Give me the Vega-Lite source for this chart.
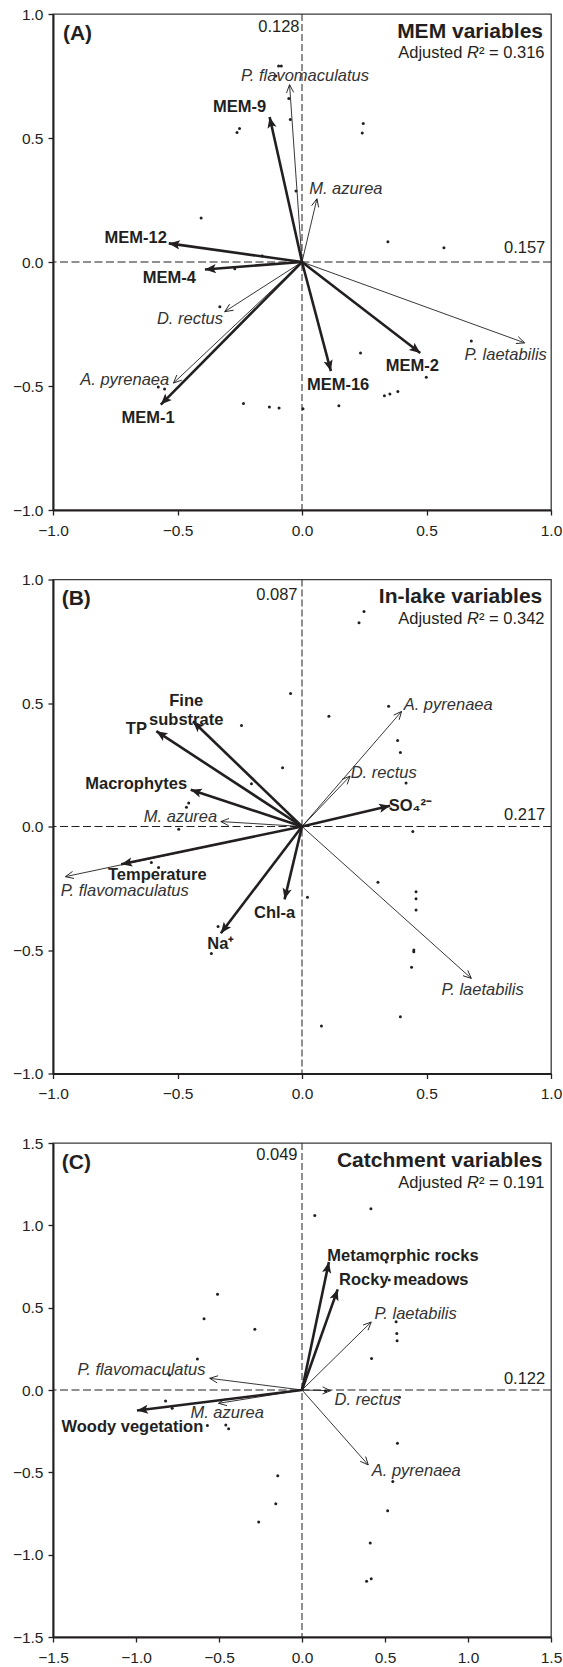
{
"$schema":"https://vega.github.io/schema/vega-lite/v6.json",
"padding":{"left":11,"top":6,"right":0,"bottom":0},
"background":"white",
"spacing":69.5,
"bounds":"flush",
"config":{
 "font":"Liberation Sans",
 "view":{"stroke":"#3a3a3a","strokeWidth":1.3},
 "axis":{"grid":false,"domainColor":"#231f20","domainWidth":2,"tickColor":"#231f20","tickWidth":1.3,"tickSize":5,"labelFontSize":15.5,"labelColor":"#231f20","labelFont":"Liberation Sans","labelFlush":false,"labelOverlap":false,"format":".1f"},
 "axisX":{"labelPadding":8},
 "axisY":{"labelPadding":5},
 "text":{"font":"Liberation Sans","color":"#231f20"}
},
"datasets":{
 "arrows":[
  {"panel":"A","kind":"var","name":"MEM-9","x":-0.13,"y":0.585,"lx":-0.251,"ly":0.623},
  {"panel":"A","kind":"var","name":"MEM-12","x":-0.535,"y":0.075,"lx":-0.668,"ly":0.097},
  {"panel":"A","kind":"var","name":"MEM-4","x":-0.39,"y":-0.03,"lx":-0.533,"ly":-0.063},
  {"panel":"A","kind":"var","name":"MEM-1","x":-0.567,"y":-0.575,"lx":-0.618,"ly":-0.629},
  {"panel":"A","kind":"var","name":"MEM-16","x":0.116,"y":-0.44,"lx":0.145,"ly":-0.495},
  {"panel":"A","kind":"var","name":"MEM-2","x":0.475,"y":-0.367,"lx":0.443,"ly":-0.42},
  {"panel":"A","kind":"sp","name":"P. flavomaculatus","x":-0.05,"y":0.715,"lx":0.012,"ly":0.75},
  {"panel":"A","kind":"sp","name":"M. azurea","x":0.06,"y":0.255,"lx":0.176,"ly":0.295},
  {"panel":"A","kind":"sp","name":"D. rectus","x":-0.31,"y":-0.2,"lx":-0.45,"ly":-0.228},
  {"panel":"A","kind":"sp","name":"A. pyrenaea","x":-0.516,"y":-0.488,"lx":-0.712,"ly":-0.474},
  {"panel":"A","kind":"sp","name":"P. laetabilis","x":0.894,"y":-0.326,"lx":0.818,"ly":-0.373},
  {"panel":"B","kind":"var","name":"Fine\nsubstrate","x":-0.438,"y":0.426,"lx":-0.465,"ly":0.508},
  {"panel":"B","kind":"var","name":"TP","x":-0.585,"y":0.386,"lx":-0.665,"ly":0.393},
  {"panel":"B","kind":"var","name":"Macrophytes","x":-0.447,"y":0.149,"lx":-0.666,"ly":0.173},
  {"panel":"B","kind":"var","name":"Temperature","x":-0.726,"y":-0.153,"lx":-0.581,"ly":-0.195},
  {"panel":"B","kind":"var","name":"Na⁺","x":-0.326,"y":-0.432,"lx":-0.326,"ly":-0.476},
  {"panel":"B","kind":"var","name":"Chl-a","x":-0.07,"y":-0.295,"lx":-0.11,"ly":-0.351},
  {"panel":"B","kind":"var","name":"SO₄²⁻","x":0.354,"y":0.084,"lx":0.435,"ly":0.085},
  {"panel":"B","kind":"sp","name":"A. pyrenaea","x":0.4,"y":0.466,"lx":0.587,"ly":0.493},
  {"panel":"B","kind":"sp","name":"D. rectus","x":0.193,"y":0.204,"lx":0.328,"ly":0.218},
  {"panel":"B","kind":"sp","name":"M. azurea","x":-0.326,"y":0.02,"lx":-0.488,"ly":0.04},
  {"panel":"B","kind":"sp","name":"P. flavomaculatus","x":-0.95,"y":-0.203,"lx":-0.712,"ly":-0.262},
  {"panel":"B","kind":"sp","name":"P. laetabilis","x":0.68,"y":-0.615,"lx":0.725,"ly":-0.662},
  {"panel":"C","kind":"var","name":"Metamorphic rocks","x":0.162,"y":0.777,"lx":0.608,"ly":0.813},
  {"panel":"C","kind":"var","name":"Rocky meadows","x":0.215,"y":0.611,"lx":0.613,"ly":0.666},
  {"panel":"C","kind":"var","name":"Woody vegetation","x":-0.994,"y":-0.125,"lx":-1.022,"ly":-0.226},
  {"panel":"C","kind":"sp","name":"P. laetabilis","x":0.417,"y":0.413,"lx":0.684,"ly":0.46},
  {"panel":"C","kind":"sp","name":"D. rectus","x":0.172,"y":-0.004,"lx":0.395,"ly":-0.061},
  {"panel":"C","kind":"sp","name":"A. pyrenaea","x":0.399,"y":-0.455,"lx":0.688,"ly":-0.489},
  {"panel":"C","kind":"sp","name":"P. flavomaculatus","x":-0.556,"y":0.071,"lx":-0.967,"ly":0.121},
  {"panel":"C","kind":"sp","name":"M. azurea","x":-0.503,"y":-0.081,"lx":-0.451,"ly":-0.137}
 ],
 "sites":[
  {"panel":"A","x":-0.094,"y":0.79},{"panel":"A","x":-0.083,"y":0.79},{"panel":"A","x":-0.105,"y":0.75},{"panel":"A","x":-0.053,"y":0.659},{"panel":"A","x":-0.047,"y":0.575},{"panel":"A","x":-0.251,"y":0.538},{"panel":"A","x":-0.261,"y":0.522},{"panel":"A","x":-0.405,"y":0.177},{"panel":"A","x":-0.024,"y":0.286},{"panel":"A","x":0.246,"y":0.558},{"panel":"A","x":0.242,"y":0.52},{"panel":"A","x":0.345,"y":0.082},{"panel":"A","x":0.57,"y":0.057},{"panel":"A","x":-0.16,"y":0.024},{"panel":"A","x":-0.27,"y":-0.027},{"panel":"A","x":-0.33,"y":-0.18},{"panel":"A","x":-0.577,"y":-0.504},{"panel":"A","x":-0.552,"y":-0.512},{"panel":"A","x":-0.235,"y":-0.571},{"panel":"A","x":-0.131,"y":-0.585},{"panel":"A","x":-0.092,"y":-0.589},{"panel":"A","x":0.004,"y":-0.592},{"panel":"A","x":0.148,"y":-0.58},{"panel":"A","x":0.235,"y":-0.367},{"panel":"A","x":0.331,"y":-0.539},{"panel":"A","x":0.353,"y":-0.532},{"panel":"A","x":0.385,"y":-0.522},{"panel":"A","x":0.499,"y":-0.465},{"panel":"A","x":0.68,"y":-0.319},
  {"panel":"B","x":0.249,"y":0.87},{"panel":"B","x":0.229,"y":0.825},{"panel":"B","x":-0.046,"y":0.538},{"panel":"B","x":0.108,"y":0.446},{"panel":"B","x":0.348,"y":0.487},{"panel":"B","x":0.384,"y":0.348},{"panel":"B","x":0.395,"y":0.3},{"panel":"B","x":-0.078,"y":0.238},{"panel":"B","x":-0.243,"y":0.409},{"panel":"B","x":-0.203,"y":0.173},{"panel":"B","x":-0.455,"y":0.095},{"panel":"B","x":-0.464,"y":0.078},{"panel":"B","x":-0.495,"y":-0.011},{"panel":"B","x":-0.605,"y":-0.146},{"panel":"B","x":-0.576,"y":-0.166},{"panel":"B","x":-0.337,"y":-0.405},{"panel":"B","x":-0.364,"y":-0.514},{"panel":"B","x":0.418,"y":0.176},{"panel":"B","x":0.445,"y":-0.02},{"panel":"B","x":0.305,"y":-0.226},{"panel":"B","x":0.458,"y":-0.264},{"panel":"B","x":0.458,"y":-0.293},{"panel":"B","x":0.458,"y":-0.338},{"panel":"B","x":0.449,"y":-0.5},{"panel":"B","x":0.449,"y":-0.507},{"panel":"B","x":0.44,"y":-0.57},{"panel":"B","x":0.022,"y":-0.286},{"panel":"B","x":0.395,"y":-0.77},{"panel":"B","x":0.078,"y":-0.808},
  {"panel":"C","x":-0.509,"y":0.581},{"panel":"C","x":-0.59,"y":0.433},{"panel":"C","x":-0.284,"y":0.369},{"panel":"C","x":0.077,"y":1.06},{"panel":"C","x":0.415,"y":1.1},{"panel":"C","x":0.508,"y":0.777},{"panel":"C","x":0.526,"y":0.668},{"panel":"C","x":0.567,"y":0.414},{"panel":"C","x":0.571,"y":0.343},{"panel":"C","x":0.573,"y":0.299},{"panel":"C","x":0.419,"y":0.192},{"panel":"C","x":0.142,"y":-0.008},{"panel":"C","x":0.587,"y":-0.044},{"panel":"C","x":0.575,"y":-0.323},{"panel":"C","x":0.547,"y":-0.556},{"panel":"C","x":0.516,"y":-0.733},{"panel":"C","x":0.411,"y":-0.929},{"panel":"C","x":0.389,"y":-1.162},{"panel":"C","x":0.417,"y":-1.147},{"panel":"C","x":-0.146,"y":-0.521},{"panel":"C","x":-0.158,"y":-0.691},{"panel":"C","x":-0.261,"y":-0.802},{"panel":"C","x":-0.63,"y":0.188},{"panel":"C","x":-0.798,"y":0.091},{"panel":"C","x":-0.822,"y":-0.067},{"panel":"C","x":-0.782,"y":-0.111},{"panel":"C","x":-0.57,"y":-0.216},{"panel":"C","x":-0.459,"y":-0.212},{"panel":"C","x":-0.442,"y":-0.236}
 ]
},
"vconcat":[
 {"width":498,"height":496,
  "layer":[
   {"data":{"values":[{}]},"mark":{"type":"rule","strokeDash":[8,3.5],"color":"#231f20","strokeWidth":1},"encoding":{"y":{"datum":0,"type":"quantitative","scale":{"domain":[-1,1],"nice":false},"axis":{"values":[-1,-0.5,0,0.5,1],"title":null}}}},
   {"data":{"values":[{}]},"mark":{"type":"rule","strokeDash":[7,3],"color":"#231f20","strokeWidth":1},"encoding":{"x":{"datum":0,"type":"quantitative","scale":{"domain":[-1,1],"nice":false},"axis":{"values":[-1,-0.5,0,0.5,1],"title":null}}}},
   {"data":{"name":"sites"},"transform":[{"filter":"datum.panel=='A'"}],"mark":{"type":"circle","size":9,"color":"#231f20","opacity":1},
    "encoding":{"x":{"field":"x","type":"quantitative","scale":{"domain":[-1,1],"nice":false},"axis":{"values":[-1,-0.5,0,0.5,1],"title":null}},"y":{"field":"y","type":"quantitative","scale":{"domain":[-1,1],"nice":false},"axis":{"values":[-1,-0.5,0,0.5,1],"title":null}}}},
   {"data":{"name":"arrows"},"transform":[{"filter":"datum.panel=='A' && datum.kind=='sp'"}],"mark":{"type":"rule","strokeWidth":0.9,"color":"#231f20"},
    "encoding":{"x":{"field":"x","type":"quantitative","scale":{"domain":[-1,1],"nice":false},"axis":{"values":[-1,-0.5,0,0.5,1],"title":null}},"y":{"field":"y","type":"quantitative","scale":{"domain":[-1,1],"nice":false},"axis":{"values":[-1,-0.5,0,0.5,1],"title":null}},"x2":{"datum":0},"y2":{"datum":0}}},
   {"data":{"name":"arrows"},"transform":[{"filter":"datum.panel=='A' && datum.kind=='var'"}],"mark":{"type":"rule","strokeWidth":2.6,"color":"#231f20"},
    "encoding":{"x":{"field":"x","type":"quantitative","scale":{"domain":[-1,1],"nice":false},"axis":{"values":[-1,-0.5,0,0.5,1],"title":null}},"y":{"field":"y","type":"quantitative","scale":{"domain":[-1,1],"nice":false},"axis":{"values":[-1,-0.5,0,0.5,1],"title":null}},"x2":{"datum":0},"y2":{"datum":0}}},
   {"data":{"name":"arrows"},"transform":[{"filter":"datum.panel=='A' && datum.kind=='sp'"},{"calculate":"atan2(datum.x, datum.y)*180/PI","as":"ang"}],"mark":{"type":"point","shape":"M-0.45,1L0,0L0.45,1","filled":false,"size":256,"color":"#231f20","strokeWidth":0.9,"opacity":1},
    "encoding":{"x":{"field":"x","type":"quantitative","scale":{"domain":[-1,1],"nice":false},"axis":{"values":[-1,-0.5,0,0.5,1],"title":null}},"y":{"field":"y","type":"quantitative","scale":{"domain":[-1,1],"nice":false},"axis":{"values":[-1,-0.5,0,0.5,1],"title":null}},"angle":{"field":"ang","type":"quantitative","scale":null}}},
   {"data":{"name":"arrows"},"transform":[{"filter":"datum.panel=='A' && datum.kind=='var'"},{"calculate":"atan2(datum.x, datum.y)*180/PI","as":"ang"}],"mark":{"type":"point","shape":"M0,0L-0.42,1L0,0.78L0.42,1Z","filled":true,"size":484,"color":"#231f20","opacity":1},
    "encoding":{"x":{"field":"x","type":"quantitative","scale":{"domain":[-1,1],"nice":false},"axis":{"values":[-1,-0.5,0,0.5,1],"title":null}},"y":{"field":"y","type":"quantitative","scale":{"domain":[-1,1],"nice":false},"axis":{"values":[-1,-0.5,0,0.5,1],"title":null}},"angle":{"field":"ang","type":"quantitative","scale":null}}},
   {"data":{"name":"arrows"},"transform":[{"filter":"datum.panel=='A' && datum.kind=='var'"}],"mark":{"type":"text","fontWeight":"bold","fontSize":16.5,"lineBreak":"\n","lineHeight":19,"align":"center","baseline":"middle"},
    "encoding":{"x":{"field":"lx","type":"quantitative","scale":{"domain":[-1,1],"nice":false},"axis":{"values":[-1,-0.5,0,0.5,1],"title":null}},"y":{"field":"ly","type":"quantitative","scale":{"domain":[-1,1],"nice":false},"axis":{"values":[-1,-0.5,0,0.5,1],"title":null}},"text":{"field":"name"}}},
   {"data":{"name":"arrows"},"transform":[{"filter":"datum.panel=='A' && datum.kind=='sp'"}],"mark":{"type":"text","fontStyle":"italic","fontSize":16.5,"align":"center","baseline":"middle","color":"#333"},
    "encoding":{"x":{"field":"lx","type":"quantitative","scale":{"domain":[-1,1],"nice":false},"axis":{"values":[-1,-0.5,0,0.5,1],"title":null}},"y":{"field":"ly","type":"quantitative","scale":{"domain":[-1,1],"nice":false},"axis":{"values":[-1,-0.5,0,0.5,1],"title":null}},"text":{"field":"name"}}},
   {"data":{"values":[{}]},"mark":{"type":"text","text":"(A)","fontWeight":"bold","fontSize":21,"align":"left","baseline":"middle"},"encoding":{"x":{"datum":-0.96,"type":"quantitative","scale":{"domain":[-1,1],"nice":false},"axis":{"values":[-1,-0.5,0,0.5,1],"title":null}},"y":{"datum":0.918,"type":"quantitative","scale":{"domain":[-1,1],"nice":false},"axis":{"values":[-1,-0.5,0,0.5,1],"title":null}}}},
   {"data":{"values":[{}]},"mark":{"type":"text","text":"MEM variables","fontWeight":"bold","fontSize":21,"align":"right","baseline":"middle"},"encoding":{"x":{"datum":0.968,"type":"quantitative","scale":{"domain":[-1,1],"nice":false},"axis":{"values":[-1,-0.5,0,0.5,1],"title":null}},"y":{"datum":0.929,"type":"quantitative","scale":{"domain":[-1,1],"nice":false},"axis":{"values":[-1,-0.5,0,0.5,1],"title":null}}}},
   {"data":{"values":[{}]},"mark":{"type":"text","text":"² = 0.316","fontSize":16.5,"align":"right","baseline":"middle"},"encoding":{"x":{"datum":0.974,"type":"quantitative","scale":{"domain":[-1,1],"nice":false},"axis":{"values":[-1,-0.5,0,0.5,1],"title":null}},"y":{"datum":0.841,"type":"quantitative","scale":{"domain":[-1,1],"nice":false},"axis":{"values":[-1,-0.5,0,0.5,1],"title":null}}}},
   {"data":{"values":[{}]},"mark":{"type":"text","text":"R","fontStyle":"italic","fontSize":16.5,"align":"right","baseline":"middle","dx":-65.6},"encoding":{"x":{"datum":0.974,"type":"quantitative","scale":{"domain":[-1,1],"nice":false},"axis":{"values":[-1,-0.5,0,0.5,1],"title":null}},"y":{"datum":0.841,"type":"quantitative","scale":{"domain":[-1,1],"nice":false},"axis":{"values":[-1,-0.5,0,0.5,1],"title":null}}}},
   {"data":{"values":[{}]},"mark":{"type":"text","text":"Adjusted","fontSize":16.5,"align":"right","baseline":"middle","dx":-82.1},"encoding":{"x":{"datum":0.974,"type":"quantitative","scale":{"domain":[-1,1],"nice":false},"axis":{"values":[-1,-0.5,0,0.5,1],"title":null}},"y":{"datum":0.841,"type":"quantitative","scale":{"domain":[-1,1],"nice":false},"axis":{"values":[-1,-0.5,0,0.5,1],"title":null}}}},
   {"data":{"values":[{}]},"mark":{"type":"text","text":"0.128","fontSize":16.5,"align":"right","baseline":"middle"},"encoding":{"x":{"datum":-0.01,"type":"quantitative","scale":{"domain":[-1,1],"nice":false},"axis":{"values":[-1,-0.5,0,0.5,1],"title":null}},"y":{"datum":0.949,"type":"quantitative","scale":{"domain":[-1,1],"nice":false},"axis":{"values":[-1,-0.5,0,0.5,1],"title":null}}}},
   {"data":{"values":[{}]},"mark":{"type":"text","text":"0.157","fontSize":16.5,"align":"right","baseline":"middle"},"encoding":{"x":{"datum":0.977,"type":"quantitative","scale":{"domain":[-1,1],"nice":false},"axis":{"values":[-1,-0.5,0,0.5,1],"title":null}},"y":{"datum":0.057,"type":"quantitative","scale":{"domain":[-1,1],"nice":false},"axis":{"values":[-1,-0.5,0,0.5,1],"title":null}}}}
  ]},
 {"width":498,"height":494,
  "layer":[
   {"data":{"values":[{}]},"mark":{"type":"rule","strokeDash":[8,3.5],"color":"#231f20","strokeWidth":1},"encoding":{"y":{"datum":0,"type":"quantitative","scale":{"domain":[-1,1],"nice":false},"axis":{"values":[-1,-0.5,0,0.5,1],"title":null}}}},
   {"data":{"values":[{}]},"mark":{"type":"rule","strokeDash":[7,3],"color":"#231f20","strokeWidth":1},"encoding":{"x":{"datum":0,"type":"quantitative","scale":{"domain":[-1,1],"nice":false},"axis":{"values":[-1,-0.5,0,0.5,1],"title":null}}}},
   {"data":{"name":"sites"},"transform":[{"filter":"datum.panel=='B'"}],"mark":{"type":"circle","size":9,"color":"#231f20","opacity":1},
    "encoding":{"x":{"field":"x","type":"quantitative","scale":{"domain":[-1,1],"nice":false},"axis":{"values":[-1,-0.5,0,0.5,1],"title":null}},"y":{"field":"y","type":"quantitative","scale":{"domain":[-1,1],"nice":false},"axis":{"values":[-1,-0.5,0,0.5,1],"title":null}}}},
   {"data":{"name":"arrows"},"transform":[{"filter":"datum.panel=='B' && datum.kind=='sp'"}],"mark":{"type":"rule","strokeWidth":0.9,"color":"#231f20"},
    "encoding":{"x":{"field":"x","type":"quantitative","scale":{"domain":[-1,1],"nice":false},"axis":{"values":[-1,-0.5,0,0.5,1],"title":null}},"y":{"field":"y","type":"quantitative","scale":{"domain":[-1,1],"nice":false},"axis":{"values":[-1,-0.5,0,0.5,1],"title":null}},"x2":{"datum":0},"y2":{"datum":0}}},
   {"data":{"name":"arrows"},"transform":[{"filter":"datum.panel=='B' && datum.kind=='var'"}],"mark":{"type":"rule","strokeWidth":2.6,"color":"#231f20"},
    "encoding":{"x":{"field":"x","type":"quantitative","scale":{"domain":[-1,1],"nice":false},"axis":{"values":[-1,-0.5,0,0.5,1],"title":null}},"y":{"field":"y","type":"quantitative","scale":{"domain":[-1,1],"nice":false},"axis":{"values":[-1,-0.5,0,0.5,1],"title":null}},"x2":{"datum":0},"y2":{"datum":0}}},
   {"data":{"name":"arrows"},"transform":[{"filter":"datum.panel=='B' && datum.kind=='sp'"},{"calculate":"atan2(datum.x, datum.y)*180/PI","as":"ang"}],"mark":{"type":"point","shape":"M-0.45,1L0,0L0.45,1","filled":false,"size":256,"color":"#231f20","strokeWidth":0.9,"opacity":1},
    "encoding":{"x":{"field":"x","type":"quantitative","scale":{"domain":[-1,1],"nice":false},"axis":{"values":[-1,-0.5,0,0.5,1],"title":null}},"y":{"field":"y","type":"quantitative","scale":{"domain":[-1,1],"nice":false},"axis":{"values":[-1,-0.5,0,0.5,1],"title":null}},"angle":{"field":"ang","type":"quantitative","scale":null}}},
   {"data":{"name":"arrows"},"transform":[{"filter":"datum.panel=='B' && datum.kind=='var'"},{"calculate":"atan2(datum.x, datum.y)*180/PI","as":"ang"}],"mark":{"type":"point","shape":"M0,0L-0.42,1L0,0.78L0.42,1Z","filled":true,"size":484,"color":"#231f20","opacity":1},
    "encoding":{"x":{"field":"x","type":"quantitative","scale":{"domain":[-1,1],"nice":false},"axis":{"values":[-1,-0.5,0,0.5,1],"title":null}},"y":{"field":"y","type":"quantitative","scale":{"domain":[-1,1],"nice":false},"axis":{"values":[-1,-0.5,0,0.5,1],"title":null}},"angle":{"field":"ang","type":"quantitative","scale":null}}},
   {"data":{"name":"arrows"},"transform":[{"filter":"datum.panel=='B' && datum.kind=='var'"}],"mark":{"type":"text","fontWeight":"bold","fontSize":16.5,"lineBreak":"\n","lineHeight":19,"align":"center","baseline":"middle"},
    "encoding":{"x":{"field":"lx","type":"quantitative","scale":{"domain":[-1,1],"nice":false},"axis":{"values":[-1,-0.5,0,0.5,1],"title":null}},"y":{"field":"ly","type":"quantitative","scale":{"domain":[-1,1],"nice":false},"axis":{"values":[-1,-0.5,0,0.5,1],"title":null}},"text":{"field":"name"}}},
   {"data":{"name":"arrows"},"transform":[{"filter":"datum.panel=='B' && datum.kind=='sp'"}],"mark":{"type":"text","fontStyle":"italic","fontSize":16.5,"align":"center","baseline":"middle","color":"#333"},
    "encoding":{"x":{"field":"lx","type":"quantitative","scale":{"domain":[-1,1],"nice":false},"axis":{"values":[-1,-0.5,0,0.5,1],"title":null}},"y":{"field":"ly","type":"quantitative","scale":{"domain":[-1,1],"nice":false},"axis":{"values":[-1,-0.5,0,0.5,1],"title":null}},"text":{"field":"name"}}},
   {"data":{"values":[{}]},"mark":{"type":"text","text":"(B)","fontWeight":"bold","fontSize":21,"align":"left","baseline":"middle"},"encoding":{"x":{"datum":-0.965,"type":"quantitative","scale":{"domain":[-1,1],"nice":false},"axis":{"values":[-1,-0.5,0,0.5,1],"title":null}},"y":{"datum":0.923,"type":"quantitative","scale":{"domain":[-1,1],"nice":false},"axis":{"values":[-1,-0.5,0,0.5,1],"title":null}}}},
   {"data":{"values":[{}]},"mark":{"type":"text","text":"In-lake variables","fontWeight":"bold","fontSize":21,"align":"right","baseline":"middle"},"encoding":{"x":{"datum":0.965,"type":"quantitative","scale":{"domain":[-1,1],"nice":false},"axis":{"values":[-1,-0.5,0,0.5,1],"title":null}},"y":{"datum":0.93,"type":"quantitative","scale":{"domain":[-1,1],"nice":false},"axis":{"values":[-1,-0.5,0,0.5,1],"title":null}}}},
   {"data":{"values":[{}]},"mark":{"type":"text","text":"² = 0.342","fontSize":16.5,"align":"right","baseline":"middle"},"encoding":{"x":{"datum":0.974,"type":"quantitative","scale":{"domain":[-1,1],"nice":false},"axis":{"values":[-1,-0.5,0,0.5,1],"title":null}},"y":{"datum":0.839,"type":"quantitative","scale":{"domain":[-1,1],"nice":false},"axis":{"values":[-1,-0.5,0,0.5,1],"title":null}}}},
   {"data":{"values":[{}]},"mark":{"type":"text","text":"R","fontStyle":"italic","fontSize":16.5,"align":"right","baseline":"middle","dx":-65.6},"encoding":{"x":{"datum":0.974,"type":"quantitative","scale":{"domain":[-1,1],"nice":false},"axis":{"values":[-1,-0.5,0,0.5,1],"title":null}},"y":{"datum":0.839,"type":"quantitative","scale":{"domain":[-1,1],"nice":false},"axis":{"values":[-1,-0.5,0,0.5,1],"title":null}}}},
   {"data":{"values":[{}]},"mark":{"type":"text","text":"Adjusted","fontSize":16.5,"align":"right","baseline":"middle","dx":-82.1},"encoding":{"x":{"datum":0.974,"type":"quantitative","scale":{"domain":[-1,1],"nice":false},"axis":{"values":[-1,-0.5,0,0.5,1],"title":null}},"y":{"datum":0.839,"type":"quantitative","scale":{"domain":[-1,1],"nice":false},"axis":{"values":[-1,-0.5,0,0.5,1],"title":null}}}},
   {"data":{"values":[{}]},"mark":{"type":"text","text":"0.087","fontSize":16.5,"align":"right","baseline":"middle"},"encoding":{"x":{"datum":-0.018,"type":"quantitative","scale":{"domain":[-1,1],"nice":false},"axis":{"values":[-1,-0.5,0,0.5,1],"title":null}},"y":{"datum":0.937,"type":"quantitative","scale":{"domain":[-1,1],"nice":false},"axis":{"values":[-1,-0.5,0,0.5,1],"title":null}}}},
   {"data":{"values":[{}]},"mark":{"type":"text","text":"0.217","fontSize":16.5,"align":"right","baseline":"middle"},"encoding":{"x":{"datum":0.977,"type":"quantitative","scale":{"domain":[-1,1],"nice":false},"axis":{"values":[-1,-0.5,0,0.5,1],"title":null}},"y":{"datum":0.047,"type":"quantitative","scale":{"domain":[-1,1],"nice":false},"axis":{"values":[-1,-0.5,0,0.5,1],"title":null}}}}
  ]},
 {"width":498,"height":494,
  "layer":[
   {"data":{"values":[{}]},"mark":{"type":"rule","strokeDash":[8,3.5],"color":"#231f20","strokeWidth":1},"encoding":{"y":{"datum":0,"type":"quantitative","scale":{"domain":[-1.5,1.5],"nice":false},"axis":{"values":[-1.5,-1,-0.5,0,0.5,1,1.5],"title":null}}}},
   {"data":{"values":[{}]},"mark":{"type":"rule","strokeDash":[7,3],"color":"#231f20","strokeWidth":1},"encoding":{"x":{"datum":0,"type":"quantitative","scale":{"domain":[-1.5,1.5],"nice":false},"axis":{"values":[-1.5,-1,-0.5,0,0.5,1,1.5],"title":null}}}},
   {"data":{"name":"sites"},"transform":[{"filter":"datum.panel=='C'"}],"mark":{"type":"circle","size":9,"color":"#231f20","opacity":1},
    "encoding":{"x":{"field":"x","type":"quantitative","scale":{"domain":[-1.5,1.5],"nice":false},"axis":{"values":[-1.5,-1,-0.5,0,0.5,1,1.5],"title":null}},"y":{"field":"y","type":"quantitative","scale":{"domain":[-1.5,1.5],"nice":false},"axis":{"values":[-1.5,-1,-0.5,0,0.5,1,1.5],"title":null}}}},
   {"data":{"name":"arrows"},"transform":[{"filter":"datum.panel=='C' && datum.kind=='sp'"}],"mark":{"type":"rule","strokeWidth":0.9,"color":"#231f20"},
    "encoding":{"x":{"field":"x","type":"quantitative","scale":{"domain":[-1.5,1.5],"nice":false},"axis":{"values":[-1.5,-1,-0.5,0,0.5,1,1.5],"title":null}},"y":{"field":"y","type":"quantitative","scale":{"domain":[-1.5,1.5],"nice":false},"axis":{"values":[-1.5,-1,-0.5,0,0.5,1,1.5],"title":null}},"x2":{"datum":0},"y2":{"datum":0}}},
   {"data":{"name":"arrows"},"transform":[{"filter":"datum.panel=='C' && datum.kind=='var'"}],"mark":{"type":"rule","strokeWidth":2.6,"color":"#231f20"},
    "encoding":{"x":{"field":"x","type":"quantitative","scale":{"domain":[-1.5,1.5],"nice":false},"axis":{"values":[-1.5,-1,-0.5,0,0.5,1,1.5],"title":null}},"y":{"field":"y","type":"quantitative","scale":{"domain":[-1.5,1.5],"nice":false},"axis":{"values":[-1.5,-1,-0.5,0,0.5,1,1.5],"title":null}},"x2":{"datum":0},"y2":{"datum":0}}},
   {"data":{"name":"arrows"},"transform":[{"filter":"datum.panel=='C' && datum.kind=='sp'"},{"calculate":"atan2(datum.x, datum.y)*180/PI","as":"ang"}],"mark":{"type":"point","shape":"M-0.45,1L0,0L0.45,1","filled":false,"size":256,"color":"#231f20","strokeWidth":0.9,"opacity":1},
    "encoding":{"x":{"field":"x","type":"quantitative","scale":{"domain":[-1.5,1.5],"nice":false},"axis":{"values":[-1.5,-1,-0.5,0,0.5,1,1.5],"title":null}},"y":{"field":"y","type":"quantitative","scale":{"domain":[-1.5,1.5],"nice":false},"axis":{"values":[-1.5,-1,-0.5,0,0.5,1,1.5],"title":null}},"angle":{"field":"ang","type":"quantitative","scale":null}}},
   {"data":{"name":"arrows"},"transform":[{"filter":"datum.panel=='C' && datum.kind=='var'"},{"calculate":"atan2(datum.x, datum.y)*180/PI","as":"ang"}],"mark":{"type":"point","shape":"M0,0L-0.42,1L0,0.78L0.42,1Z","filled":true,"size":484,"color":"#231f20","opacity":1},
    "encoding":{"x":{"field":"x","type":"quantitative","scale":{"domain":[-1.5,1.5],"nice":false},"axis":{"values":[-1.5,-1,-0.5,0,0.5,1,1.5],"title":null}},"y":{"field":"y","type":"quantitative","scale":{"domain":[-1.5,1.5],"nice":false},"axis":{"values":[-1.5,-1,-0.5,0,0.5,1,1.5],"title":null}},"angle":{"field":"ang","type":"quantitative","scale":null}}},
   {"data":{"name":"arrows"},"transform":[{"filter":"datum.panel=='C' && datum.kind=='var'"}],"mark":{"type":"text","fontWeight":"bold","fontSize":16.5,"lineBreak":"\n","lineHeight":19,"align":"center","baseline":"middle"},
    "encoding":{"x":{"field":"lx","type":"quantitative","scale":{"domain":[-1.5,1.5],"nice":false},"axis":{"values":[-1.5,-1,-0.5,0,0.5,1,1.5],"title":null}},"y":{"field":"ly","type":"quantitative","scale":{"domain":[-1.5,1.5],"nice":false},"axis":{"values":[-1.5,-1,-0.5,0,0.5,1,1.5],"title":null}},"text":{"field":"name"}}},
   {"data":{"name":"arrows"},"transform":[{"filter":"datum.panel=='C' && datum.kind=='sp'"}],"mark":{"type":"text","fontStyle":"italic","fontSize":16.5,"align":"center","baseline":"middle","color":"#333"},
    "encoding":{"x":{"field":"lx","type":"quantitative","scale":{"domain":[-1.5,1.5],"nice":false},"axis":{"values":[-1.5,-1,-0.5,0,0.5,1,1.5],"title":null}},"y":{"field":"ly","type":"quantitative","scale":{"domain":[-1.5,1.5],"nice":false},"axis":{"values":[-1.5,-1,-0.5,0,0.5,1,1.5],"title":null}},"text":{"field":"name"}}},
   {"data":{"values":[{}]},"mark":{"type":"text","text":"(C)","fontWeight":"bold","fontSize":21,"align":"left","baseline":"middle"},"encoding":{"x":{"datum":-1.447,"type":"quantitative","scale":{"domain":[-1.5,1.5],"nice":false},"axis":{"values":[-1.5,-1,-0.5,0,0.5,1,1.5],"title":null}},"y":{"datum":1.38,"type":"quantitative","scale":{"domain":[-1.5,1.5],"nice":false},"axis":{"values":[-1.5,-1,-0.5,0,0.5,1,1.5],"title":null}}}},
   {"data":{"values":[{}]},"mark":{"type":"text","text":"Catchment variables","fontWeight":"bold","fontSize":21,"align":"right","baseline":"middle"},"encoding":{"x":{"datum":1.448,"type":"quantitative","scale":{"domain":[-1.5,1.5],"nice":false},"axis":{"values":[-1.5,-1,-0.5,0,0.5,1,1.5],"title":null}},"y":{"datum":1.392,"type":"quantitative","scale":{"domain":[-1.5,1.5],"nice":false},"axis":{"values":[-1.5,-1,-0.5,0,0.5,1,1.5],"title":null}}}},
   {"data":{"values":[{}]},"mark":{"type":"text","text":"² = 0.191","fontSize":16.5,"align":"right","baseline":"middle"},"encoding":{"x":{"datum":1.461,"type":"quantitative","scale":{"domain":[-1.5,1.5],"nice":false},"axis":{"values":[-1.5,-1,-0.5,0,0.5,1,1.5],"title":null}},"y":{"datum":1.258,"type":"quantitative","scale":{"domain":[-1.5,1.5],"nice":false},"axis":{"values":[-1.5,-1,-0.5,0,0.5,1,1.5],"title":null}}}},
   {"data":{"values":[{}]},"mark":{"type":"text","text":"R","fontStyle":"italic","fontSize":16.5,"align":"right","baseline":"middle","dx":-65.6},"encoding":{"x":{"datum":1.461,"type":"quantitative","scale":{"domain":[-1.5,1.5],"nice":false},"axis":{"values":[-1.5,-1,-0.5,0,0.5,1,1.5],"title":null}},"y":{"datum":1.258,"type":"quantitative","scale":{"domain":[-1.5,1.5],"nice":false},"axis":{"values":[-1.5,-1,-0.5,0,0.5,1,1.5],"title":null}}}},
   {"data":{"values":[{}]},"mark":{"type":"text","text":"Adjusted","fontSize":16.5,"align":"right","baseline":"middle","dx":-82.1},"encoding":{"x":{"datum":1.461,"type":"quantitative","scale":{"domain":[-1.5,1.5],"nice":false},"axis":{"values":[-1.5,-1,-0.5,0,0.5,1,1.5],"title":null}},"y":{"datum":1.258,"type":"quantitative","scale":{"domain":[-1.5,1.5],"nice":false},"axis":{"values":[-1.5,-1,-0.5,0,0.5,1,1.5],"title":null}}}},
   {"data":{"values":[{}]},"mark":{"type":"text","text":"0.049","fontSize":16.5,"align":"right","baseline":"middle"},"encoding":{"x":{"datum":-0.027,"type":"quantitative","scale":{"domain":[-1.5,1.5],"nice":false},"axis":{"values":[-1.5,-1,-0.5,0,0.5,1,1.5],"title":null}},"y":{"datum":1.426,"type":"quantitative","scale":{"domain":[-1.5,1.5],"nice":false},"axis":{"values":[-1.5,-1,-0.5,0,0.5,1,1.5],"title":null}}}},
   {"data":{"values":[{}]},"mark":{"type":"text","text":"0.122","fontSize":16.5,"align":"right","baseline":"middle"},"encoding":{"x":{"datum":1.465,"type":"quantitative","scale":{"domain":[-1.5,1.5],"nice":false},"axis":{"values":[-1.5,-1,-0.5,0,0.5,1,1.5],"title":null}},"y":{"datum":0.068,"type":"quantitative","scale":{"domain":[-1.5,1.5],"nice":false},"axis":{"values":[-1.5,-1,-0.5,0,0.5,1,1.5],"title":null}}}}
  ]}
]
}
